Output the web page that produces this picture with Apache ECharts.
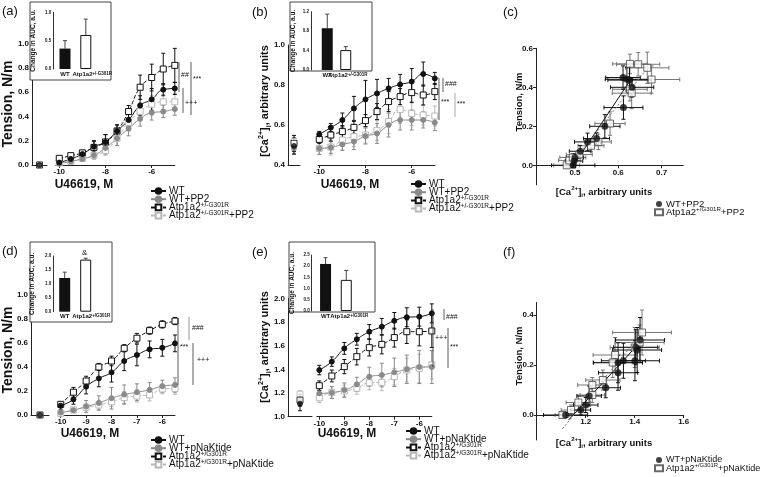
<!DOCTYPE html>
<html>
<head>
<meta charset="utf-8">
<script src="https://cdn.jsdelivr.net/npm/echarts@6/dist/echarts.min.js"></script>
<style>
  html, body { margin: 0; padding: 0; background: #fff; }
  #chart { width: 762px; height: 477px; }
</style>
</head>
<body>
<div id="chart"></div>
<script>
// log concentrations of U46619
const dosesAB = [-10, -9.5, -9, -8.5, -8, -7.5, -7, -6.5, -6, -5.5, -5];
const dosesDE = [-10, -9.5, -9, -8.5, -8, -7.5, -7, -6.5, -6, -5.5];

// (a) tension, PP2
const aWT = [0.02, 0.05, 0.09, 0.15, 0.19, 0.28, 0.37, 0.49, 0.54, 0.62, 0.63];
const aWTErr = [0.01, 0.02, 0.03, 0.05, 0.06, 0.05, 0.05, 0.08, 0.09, 0.05, 0.05];
const aWTPP2 = [0.01, 0.03, 0.05, 0.08, 0.14, 0.22, 0.30, 0.38, 0.43, 0.44, 0.46];
const aWTPP2Err = [0.01, 0.02, 0.02, 0.03, 0.05, 0.06, 0.06, 0.06, 0.06, 0.05, 0.05];
const aAtp = [0.055, 0.077, 0.10, 0.145, 0.19, 0.28, 0.44, 0.64, 0.72, 0.79, 0.82];
const aAtpErr = [0.01, 0.01, 0.02, 0.05, 0.06, 0.05, 0.05, 0.10, 0.11, 0.13, 0.14];
const aAtpPP2 = [0.02, 0.03, 0.055, 0.08, 0.12, 0.22, 0.35, 0.44, 0.50, 0.52, 0.52];
const aAtpPP2Err = [0.01, 0.01, 0.02, 0.03, 0.04, 0.06, 0.07, 0.07, 0.07, 0.06, 0.07];
const aBase = [0, 0, 0, 0];
const aBaseErr = [0.005, 0.005, 0.005, 0.005];

// (b) calcium, PP2
const bWT = [0.553, 0.587, 0.625, 0.683, 0.728, 0.758, 0.783, 0.803, 0.817, 0.855, 0.833];
const bWTErr = [0.015, 0.02, 0.035, 0.06, 0.095, 0.07, 0.05, 0.05, 0.065, 0.06, 0.03];
const bWTPP2 = [0.483, 0.488, 0.503, 0.517, 0.545, 0.558, 0.60, 0.625, 0.625, 0.625, 0.612];
const bWTPP2Err = [0.03, 0.03, 0.03, 0.04, 0.04, 0.05, 0.06, 0.05, 0.05, 0.04, 0.04];
const bAtp = [0.528, 0.55, 0.567, 0.588, 0.622, 0.667, 0.717, 0.742, 0.762, 0.75, 0.767];
const bAtpErr = [0.02, 0.03, 0.03, 0.03, 0.03, 0.04, 0.05, 0.04, 0.05, 0.05, 0.04];
const bAtpPP2 = [0.483, 0.49, 0.525, 0.542, 0.55, 0.572, 0.617, 0.678, 0.658, 0.65, 0.645];
const bAtpPP2Err = [0.03, 0.04, 0.05, 0.05, 0.04, 0.05, 0.06, 0.07, 0.06, 0.05, 0.05];
const bBase = [0.517, 0.483, 0.508, 0.495];
const bBaseErr = [0.03, 0.03, 0.04, 0.04];

// (d) tension, pNaKtide
const dWT = [0.078, 0.13, 0.236, 0.305, 0.355, 0.45, 0.50, 0.547, 0.56, 0.597];
const dWTErr = [0.03, 0.04, 0.06, 0.07, 0.08, 0.08, 0.09, 0.07, 0.07, 0.07];
const dWTpN = [0.02, 0.04, 0.07, 0.10, 0.14, 0.17, 0.19, 0.21, 0.24, 0.25];
const dWTpNErr = [0.01, 0.02, 0.05, 0.06, 0.09, 0.08, 0.07, 0.06, 0.05, 0.06];
const dAtp = [0.089, 0.19, 0.283, 0.40, 0.45, 0.556, 0.64, 0.703, 0.755, 0.783];
const dAtpErr = [0.02, 0.04, 0.04, 0.03, 0.04, 0.03, 0.04, 0.03, 0.03, 0.03];
const dAtppN = [0.014, 0.042, 0.064, 0.083, 0.11, 0.145, 0.158, 0.167, 0.217, 0.222];
const dAtppNErr = [0.01, 0.02, 0.03, 0.04, 0.04, 0.05, 0.05, 0.05, 0.04, 0.05];
const dBase = [0, 0, 0, 0];
const dBaseErr = [0.01, 0.01, 0.01, 0.01];

// (e) calcium, pNaKtide
const eWT = [1.394, 1.465, 1.577, 1.654, 1.718, 1.76, 1.81, 1.84, 1.845, 1.873];
const eWTErr = [0.04, 0.04, 0.05, 0.05, 0.06, 0.07, 0.07, 0.08, 0.08, 0.08];
const eWTpN = [1.197, 1.203, 1.225, 1.273, 1.338, 1.352, 1.375, 1.40, 1.42, 1.42];
const eWTpNErr = [0.04, 0.05, 0.06, 0.06, 0.08, 0.10, 0.12, 0.12, 0.14, 0.14];
const eAtp = [1.262, 1.344, 1.423, 1.507, 1.583, 1.611, 1.668, 1.718, 1.718, 1.724];
const eAtpErr = [0.04, 0.05, 0.06, 0.07, 0.07, 0.08, 0.08, 0.10, 0.12, 0.14];
const eAtppN = [1.16, 1.206, 1.217, 1.24, 1.287, 1.29, 1.338, 1.394, 1.408, 1.437];
const eAtppNErr = [0.04, 0.05, 0.05, 0.05, 0.06, 0.07, 0.07, 0.10, 0.12, 0.12];
const eBase = [1.19, 1.13, 1.14, 1.11];
const eBaseErr = [0.03, 0.04, 0.05, 0.06];

// (c) tension vs calcium, PP2
const cWTx = [0.496, 0.498, 0.500, 0.512, 0.529, 0.550, 0.569, 0.612, 0.632, 0.611, 0.620, 0.626];
const cWTy = [0.0, 0.022, 0.040, 0.072, 0.120, 0.137, 0.200, 0.296, 0.400, 0.450, 0.441, 0.437];
const cWTxErr = [0.05, 0.02, 0.02, 0.025, 0.03, 0.03, 0.035, 0.045, 0.05, 0.04, 0.05, 0.05];
const cWTyErr = [0.01, 0.02, 0.02, 0.03, 0.045, 0.03, 0.06, 0.06, 0.05, 0.06, 0.06, 0.07];
const cAtpx = [0.481, 0.487, 0.495, 0.510, 0.537, 0.554, 0.581, 0.627, 0.631, 0.627, 0.646, 0.667, 0.677];
const cAtpy = [0.0, 0.025, 0.04, 0.055, 0.10, 0.12, 0.214, 0.39, 0.37, 0.52, 0.518, 0.50, 0.44];
const cAtpxErr = [0.03, 0.025, 0.03, 0.03, 0.03, 0.03, 0.035, 0.04, 0.045, 0.04, 0.05, 0.05, 0.065];
const cAtpyErr = [0.01, 0.02, 0.02, 0.02, 0.03, 0.04, 0.06, 0.06, 0.08, 0.05, 0.06, 0.08, 0.07];
const cFitWT = [[0.492, -0.015], [0.632, 0.45]];
const cFitAtp = [[0.484, -0.015], [0.668, 0.50]];

// (f) tension vs calcium, pNaKtide
const fWTx = [1.118, 1.18, 1.20, 1.214, 1.282, 1.332, 1.332, 1.354, 1.401, 1.404, 1.41, 1.422];
const fWTy = [0.0, 0.02, 0.04, 0.076, 0.109, 0.169, 0.209, 0.217, 0.217, 0.271, 0.26, 0.30];
const fWTxErr = [0.09, 0.04, 0.05, 0.05, 0.06, 0.08, 0.10, 0.09, 0.10, 0.09, 0.10, 0.10];
const fWTyErr = [0.01, 0.02, 0.03, 0.04, 0.04, 0.07, 0.08, 0.07, 0.08, 0.07, 0.09, 0.09];
const fAtpx = [1.105, 1.14, 1.17, 1.227, 1.227, 1.27, 1.31, 1.32, 1.40, 1.42, 1.43];
const fAtpy = [0.0, 0.02, 0.05, 0.08, 0.12, 0.14, 0.21, 0.24, 0.27, 0.29, 0.33];
const fAtpxErr = [0.03, 0.04, 0.05, 0.05, 0.06, 0.07, 0.08, 0.09, 0.10, 0.10, 0.12];
const fAtpyErr = [0.01, 0.02, 0.03, 0.03, 0.03, 0.04, 0.06, 0.07, 0.08, 0.07, 0.09];
const fFitWT = [[1.13, -0.02], [1.43, 0.30]];
const fFitAtp = [[1.105, -0.055], [1.44, 0.34]];

// insets: change in AUC (WT, Atp1a2)
const insetCats = ['WT', 'Atp'];
const insA = [0.36, 0.60], insAErr = [0.14, 0.28];
const insB = [0.86, 0.41], insBErr = [0.29, 0.07];
const insD = [1.21, 1.87], insDErr = [0.21, 0.05];
const insE = [2.10, 1.39], insEErr = [0.28, 0.42];

const FONT = 'Liberation Sans';
const BLACK = '#111', GRAY = '#8a8a8a', LIGHT = '#b8b8b8';

const chart = echarts.init(document.getElementById('chart'));
const option = {
  animation: false,
  backgroundColor: '#fff',
  textStyle: { fontFamily: FONT },
  grid: [], xAxis: [], yAxis: [], series: [], legend: [], graphic: []
};

function addGrid(rect, xa, ya) {
  const i = option.grid.length;
  option.grid.push(Object.assign({ outerBoundsMode: 'none', containLabel: false }, rect));
  option.xAxis.push(Object.assign({ gridIndex: i }, xa));
  option.yAxis.push(Object.assign({ gridIndex: i }, ya));
  return i;
}

const lineAx = { lineStyle: { color: '#222', width: 1 } };
const tickAx = { length: 3, lineStyle: { color: '#222' } };
const lab8 = { color: '#111', fontSize: 8, fontWeight: 'bold', fontFamily: FONT, margin: 3 };

// error bars: value = [x, y, xerr, yerr]
function errBars(gi, pts, color, z, upOnly) {
  return {
    type: 'custom', xAxisIndex: gi, yAxisIndex: gi, silent: true, z: z || 2,
    data: pts,
    renderItem(params, api) {
      const x = api.value(0), y = api.value(1), xe = api.value(2), ye = api.value(3);
      const ch = [];
      const st = { stroke: color, lineWidth: 1 };
      if (ye > 0) {
        const a = api.coord([x, upOnly ? y : y - ye]), b = api.coord([x, y + ye]);
        ch.push({ type: 'line', shape: { x1: a[0], y1: a[1], x2: b[0], y2: b[1] }, style: st });
        ch.push({ type: 'line', shape: { x1: b[0] - 2, y1: b[1], x2: b[0] + 2, y2: b[1] }, style: st });
        if (!upOnly) ch.push({ type: 'line', shape: { x1: a[0] - 2, y1: a[1], x2: a[0] + 2, y2: a[1] }, style: st });
      }
      if (xe > 0) {
        const a = api.coord([x - xe, y]), b = api.coord([x + xe, y]);
        ch.push({ type: 'line', shape: { x1: a[0], y1: a[1], x2: b[0], y2: b[1] }, style: st });
        ch.push({ type: 'line', shape: { x1: a[0], y1: a[1] - 2, x2: a[0], y2: a[1] + 2 }, style: st });
        ch.push({ type: 'line', shape: { x1: b[0], y1: b[1] - 2, x2: b[0], y2: b[1] + 2 }, style: st });
      }
      return { type: 'group', children: ch };
    }
  };
}

const STYLES = {
  wt:   { color: BLACK, fill: BLACK, symbol: 'circle', size: 5, dash: 'solid' },
  wtd:  { color: GRAY, fill: GRAY, symbol: 'circle', size: 5, dash: 'solid' },
  atp:  { color: BLACK, fill: '#fff', symbol: 'rect', size: 6, dash: 'dashed' },
  atpd: { color: LIGHT, fill: '#fff', symbol: 'rect', size: 6, dash: 'dashed' }
};

function curvePanel(p) {
  const ya = {
    type: 'value', min: p.ymin, max: p.ymax, interval: p.yint,
    axisLine: Object.assign({ show: true, onZero: false }, lineAx), axisTick: tickAx,
    splitLine: { show: false }, axisLabel: Object.assign({ formatter: v => v.toFixed(1) }, lab8)
  };
  const gb = addGrid({ left: p.axisX, top: p.top, width: p.baseW, height: p.h },
    { type: 'category', data: ['0'], boundaryGap: true, axisLine: lineAx,
      axisTick: { show: false }, axisLabel: { show: false } }, ya);
  const gm = addGrid({ left: p.mainL, top: p.top, width: p.mainW, height: p.h },
    { type: 'value', min: p.xmin, max: p.xmax, splitLine: { show: false },
      axisLine: Object.assign({ onZero: false }, lineAx),
      axisTick: Object.assign({ customValues: p.xticks }, tickAx),
      axisLabel: Object.assign({ customValues: p.xticks, formatter: v => String(v) }, lab8) },
    { type: 'value', min: p.ymin, max: p.ymax, show: false });
  // drug-treated (grey) groups first, black groups on top
  p.curves.forEach((c, k) => {
    const s = STYLES[c.style];
    option.series.push(errBars(gm, p.doses.map((d, i) => [d, c.vals[i], 0, c.errs[i]]), s.color, 2));
    option.series.push({
      type: 'line', name: c.name, xAxisIndex: gm, yAxisIndex: gm, z: 3,
      data: p.doses.map((d, i) => [d, c.vals[i]]), smooth: 0.5,
      symbol: s.symbol, symbolSize: s.size, showSymbol: true,
      itemStyle: { color: s.fill, borderColor: s.color, borderWidth: 1 },
      lineStyle: { color: s.color, width: 1, type: s.dash }
    });
    option.series.push(errBars(gb, [[0, p.base[k], 0, p.baseErr[k]]], s.color, 2));
    option.series.push({
      type: 'scatter', xAxisIndex: gb, yAxisIndex: gb, z: 3, silent: true,
      data: [[0, p.base[k]]], symbol: s.symbol, symbolSize: s.size,
      itemStyle: { color: s.fill, borderColor: s.color, borderWidth: 1 }
    });
  });
}

function scatterPanel(p) {
  // x axis drawn at tension = 0, the y axis runs on below it
  const zeroOffset = -p.h * (0 - p.ymin) / (p.ymax - p.ymin);
  const gi = addGrid({ left: p.left, top: p.top, width: p.w, height: p.h },
    { type: 'value', min: p.xmin, max: p.xmax, splitLine: { show: false }, offset: zeroOffset,
      axisLine: Object.assign({ onZero: false }, lineAx),
      axisTick: Object.assign({ customValues: p.xticks }, tickAx),
      axisLabel: Object.assign({ customValues: p.xticks, formatter: v => v.toFixed(1) }, lab8) },
    { type: 'value', min: p.ymin, max: p.ymax, splitLine: { show: false },
      axisLine: Object.assign({ onZero: false }, lineAx),
      axisTick: Object.assign({ customValues: p.yticks }, tickAx),
      axisLabel: Object.assign({ customValues: p.yticks, formatter: v => v.toFixed(1) }, lab8) });
  option.series.push({ type: 'line', xAxisIndex: gi, yAxisIndex: gi, data: p.fitAtp, symbol: 'none', silent: true,
    lineStyle: { color: '#777', width: 1, type: [2, 2] }, z: 2 });
  option.series.push({ type: 'line', xAxisIndex: gi, yAxisIndex: gi, data: p.fitWT, symbol: 'none', silent: true,
    lineStyle: { color: BLACK, width: 1 }, z: 2 });
  option.series.push(errBars(gi, p.atpX.map((x, i) => [x, p.atpY[i], p.atpXe[i], p.atpYe[i]]), '#777', 2));
  option.series.push(errBars(gi, p.wtX.map((x, i) => [x, p.wtY[i], p.wtXe[i], p.wtYe[i]]), BLACK, 2));
  option.series.push({ type: 'scatter', name: p.names[1], xAxisIndex: gi, yAxisIndex: gi, z: 3,
    data: p.atpX.map((x, i) => [x, p.atpY[i]]), symbol: 'rect', symbolSize: 7,
    itemStyle: { color: '#fff', borderColor: '#444', borderWidth: 1 } });
  option.series.push({ type: 'scatter', name: p.names[0], xAxisIndex: gi, yAxisIndex: gi, z: 4,
    data: p.wtX.map((x, i) => [x, p.wtY[i]]), symbol: 'circle', symbolSize: 7,
    itemStyle: { color: BLACK } });
}

function inset(p) {
  option.graphic.push({ type: 'rect', z: 5, shape: { x: p.box[0], y: p.box[1], width: p.box[2], height: p.box[3] },
    style: { fill: '#fff', stroke: '#444', lineWidth: 1 } });
  const gi = addGrid({ left: p.left, top: p.top, width: p.w, height: p.h },
    { type: 'category', data: insetCats, z: 6, axisLine: { show: false }, axisTick: { show: false },
      axisLabel: { color: '#111', fontSize: 6, fontWeight: 'bold', margin: 2, fontFamily: FONT, interval: 0, hideOverlap: false,
        formatter: v => v === 'WT' ? 'WT' : '{sp|}Atp1a2{sup|' + p.geno + '}',
        rich: { sup: { fontSize: 4.5, fontWeight: 'bold', verticalAlign: 'top' }, sp: { width: p.shift } } } },
    { type: 'value', min: 0, max: p.ymax, interval: p.yint, z: 6, offset: p.offset,
      splitLine: { show: false }, axisLine: { show: true, lineStyle: { color: '#333', width: 1 } },
      axisTick: { length: 2, lineStyle: { color: '#333' } },
      axisLabel: { color: '#111', fontSize: 4.5, fontWeight: 'bold', margin: 2, formatter: v => v.toFixed(1) },
      name: 'Change in AUC, a.u.', nameLocation: 'middle', nameGap: p.nameGap, nameRotate: 90,
      nameTextStyle: { color: '#111', fontSize: 6.5, fontWeight: 'bold', fontFamily: FONT } });
  option.series.push({ type: 'bar', xAxisIndex: gi, yAxisIndex: gi, z: 6, barWidth: 11, silent: true,
    data: p.vals.map((v, i) => ({ value: v, itemStyle: i === 0 ? { color: BLACK } : { color: '#fff', borderColor: BLACK, borderWidth: 1 } })) });
  option.series.push(errBars(gi, p.vals.map((v, i) => [i, v, 0, p.errs[i]]), '#444', 6, true));
}

function legendFor(p) {
  const fs = p.fontSize || 10;
  option.legend.push({
    orient: 'vertical', left: p.left, top: p.top, padding: 0, itemGap: p.gap !== undefined ? p.gap : -3.8,
    itemWidth: p.iw || 15, itemHeight: p.ih || 7, selectedMode: false, data: p.items.map(it => it[0]),
    formatter: n => (p.items.find(it => it[0] === n) || [n, n])[1],
    textStyle: { fontSize: fs, color: '#111', fontFamily: FONT, lineHeight: 12, padding: [0, 0, 0, -2],
      rich: { sup: { fontSize: fs * 0.65, fontFamily: FONT, color: '#111', verticalAlign: 'top' } } }
  });
}

// ----- panels -----
curvePanel({ axisX: 32, baseW: 15, top: 43.5, h: 121.5, ymin: 0, ymax: 1, yint: 0.2,
  mainL: 55.8, mainW: 119, xmin: -10.15, xmax: -5, xticks: [-10, -8, -6], doses: dosesAB,
  base: aBase, baseErr: aBaseErr,
  curves: [
    { name: 'a:atpd', style: 'atpd', vals: aAtpPP2, errs: aAtpPP2Err },
    { name: 'a:wtd', style: 'wtd', vals: aWTPP2, errs: aWTPP2Err },
    { name: 'a:atp', style: 'atp', vals: aAtp, errs: aAtpErr },
    { name: 'a:wt', style: 'wt', vals: aWT, errs: aWTErr }
  ] });
curvePanel({ axisX: 288, baseW: 12, top: 45, h: 120, ymin: 0.4, ymax: 1.0, yint: 0.2,
  mainL: 318.1, mainW: 116.7, xmin: -10.05, xmax: -5, xticks: [-10, -8, -6], doses: dosesAB,
  base: bBase, baseErr: bBaseErr,
  curves: [
    { name: 'b:atpd', style: 'atpd', vals: bAtpPP2, errs: bAtpPP2Err },
    { name: 'b:wtd', style: 'wtd', vals: bWTPP2, errs: bWTPP2Err },
    { name: 'b:atp', style: 'atp', vals: bAtp, errs: bAtpErr },
    { name: 'b:wt', style: 'wt', vals: bWT, errs: bWTErr }
  ] });
curvePanel({ axisX: 31, baseW: 18, top: 295, h: 120, ymin: 0, ymax: 1, yint: 0.2,
  mainL: 58.2, mainW: 116.8, xmin: -10.1, xmax: -5.5, xticks: [-10, -9, -8, -7, -6], doses: dosesDE,
  base: dBase, baseErr: dBaseErr,
  curves: [
    { name: 'd:atpd', style: 'atpd', vals: dAtppN, errs: dAtppNErr },
    { name: 'd:wtd', style: 'wtd', vals: dWTpN, errs: dWTpNErr },
    { name: 'd:atp', style: 'atp', vals: dAtp, errs: dAtpErr },
    { name: 'd:wt', style: 'wt', vals: dWT, errs: dWTErr }
  ] });
curvePanel({ axisX: 288, baseW: 24, top: 298.3, h: 118.4, ymin: 1.0, ymax: 2.0, yint: 0.2,
  mainL: 316.8, mainW: 115, xmin: -10.1, xmax: -5.5, xticks: [-10, -9, -8, -7, -6], doses: dosesDE,
  base: eBase, baseErr: eBaseErr,
  curves: [
    { name: 'e:atpd', style: 'atpd', vals: eAtppN, errs: eAtppNErr },
    { name: 'e:wtd', style: 'wtd', vals: eWTpN, errs: eWTpNErr },
    { name: 'e:atp', style: 'atp', vals: eAtp, errs: eAtpErr },
    { name: 'e:wt', style: 'wt', vals: eWT, errs: eWTErr }
  ] });

scatterPanel({ left: 536, top: 48.3, w: 147.2, h: 136.5, xmin: 0.41, xmax: 0.75, ymin: -0.1, ymax: 0.6,
  xticks: [0.5, 0.6, 0.7], yticks: [0, 0.2, 0.4, 0.6], names: ['c:wt', 'c:atp'],
  wtX: cWTx, wtY: cWTy, wtXe: cWTxErr, wtYe: cWTyErr,
  atpX: cAtpx, atpY: cAtpy, atpXe: cAtpxErr, atpYe: cAtpyErr, fitWT: cFitWT, fitAtp: cFitAtp });
scatterPanel({ left: 536.7, top: 302.5, w: 147, h: 137.5, xmin: 1.0, xmax: 1.6, ymin: -0.1, ymax: 0.45,
  xticks: [1.2, 1.4, 1.6], yticks: [0, 0.2, 0.4], names: ['f:wt', 'f:atp'],
  wtX: fWTx, wtY: fWTy, wtXe: fWTxErr, wtYe: fWTyErr,
  atpX: fAtpx, atpY: fAtpy, atpXe: fAtpxErr, atpYe: fAtpyErr, fitWT: fFitWT, fitAtp: fFitAtp });

inset({ box: [30, 2, 81, 78], left: 54.6, top: 12.3, w: 41.6, h: 56.7, ymax: 1.0, yint: 0.5, offset: 1.3, nameGap: 17, shift: 13, geno: '+/-G301R', vals: insA, errs: insAErr });
inset({ box: [290, 2, 82, 69], left: 318, top: 11.7, w: 37, h: 58.3, ymax: 1.2, yint: 0.4, offset: 7, nameGap: 14, shift: 4, geno: '+/-G301R', vals: insB, errs: insBErr });
inset({ box: [30, 242, 82, 80], left: 54.2, top: 256, w: 42, h: 55.7, ymax: 2.0, yint: 0.5, offset: 1, nameGap: 17, shift: 11, geno: '+/G301R', vals: insD, errs: insDErr });
inset({ box: [289, 242, 86, 70], left: 315.2, top: 255, w: 41.4, h: 56, ymax: 2.5, yint: 0.5, offset: 3.5, nameGap: 16, shift: 6, geno: '+/G301R', vals: insE, errs: insEErr });

legendFor({ left: 150, top: 185, items: [['a:wt', 'WT'], ['a:wtd', 'WT+PP2'], ['a:atp', 'Atp1a2{sup|+/-G301R}'], ['a:atpd', 'Atp1a2{sup|+/-G301R}+PP2']] });
legendFor({ left: 410, top: 178, items: [['b:wt', 'WT'], ['b:wtd', 'WT+PP2'], ['b:atp', 'Atp1a2{sup|+/-G301R}'], ['b:atpd', 'Atp1a2{sup|+/-G301R}+PP2']] });
legendFor({ left: 654, top: 198, iw: 8, ih: 6, fontSize: 9.5, items: [['c:wt', 'WT+PP2'], ['c:atp', 'Atp1a2{sup|+/G301R}+PP2']] });
legendFor({ left: 150, top: 434, items: [['d:wt', 'WT'], ['d:wtd', 'WT+pNaKtide'], ['d:atp', 'Atp1a2{sup|+/G301R}'], ['d:atpd', 'Atp1a2{sup|+/G301R}+pNaKtide']] });
legendFor({ left: 405, top: 425, items: [['e:wt', 'WT'], ['e:wtd', 'WT+pNaKtide'], ['e:atp', 'Atp1a2{sup|+/G301R}'], ['e:atpd', 'Atp1a2{sup|+/G301R}+pNaKtide']] });
legendFor({ left: 654, top: 454, iw: 8, ih: 6, fontSize: 9, items: [['f:wt', 'WT+pNaKtide'], ['f:atp', 'Atp1a2{sup|+/G301R}+pNaKtide']] });

// ----- titles, panel letters, significance marks -----
const g = option.graphic;
function txt(x, y, text, o) {
  g.push({ type: 'text', x, y, z: 8, style: Object.assign({ text, fill: '#111', font: '13px ' + FONT, textAlign: 'left', textVerticalAlign: 'middle' }, o || {}) });
}
function richStyle(size) {
  return { sup: { font: 'bold ' + (size * 0.65) + 'px ' + FONT, verticalAlign: 'top' },
           sub: { font: 'bold ' + (size * 0.65) + 'px ' + FONT, verticalAlign: 'bottom' } };
}
function title(x, y, text, size, rotated) {
  g.push({ type: 'text', x, y, z: 8, rotation: rotated ? Math.PI / 2 : 0,
    style: { text, fill: '#111', font: 'bold ' + size + 'px ' + FONT, textAlign: 'center', textVerticalAlign: 'middle',
      lineHeight: size * 1.4, rich: richStyle(size) } });
}
function vline(x, y1, y2, color, w) {
  g.push({ type: 'line', z: 8, shape: { x1: x, y1, x2: x, y2 }, style: { stroke: color || '#333', lineWidth: w || 0.8 } });
}
const CA = '[Ca{sup|2+}]{sub|i}, arbitrary units';

txt(2, 11, '(a)'); txt(252, 12, '(b)'); txt(503, 12, '(c)');
txt(2, 251, '(d)'); txt(252, 252, '(e)'); txt(503, 252, '(f)');

title(8, 104, 'Tension, N/m', 14, true);
title(84, 185, 'U46619, M', 12);
title(265, 101, CA, 11, true);
title(350, 185, 'U46619, M', 12);
title(519, 102, 'Tension, N/m', 9.5, true);
title(604, 192, CA, 9.5);

title(8, 350, 'Tension, N/m', 14, true);
title(90, 434, 'U46619, M', 12);
title(265, 347, CA, 11, true);
title(347, 434, 'U46619, M', 12);
title(519, 356, 'Tension, N/m', 9.5, true);
title(604, 443, CA, 9.5);

const sig = { font: '7px ' + FONT };
// (a)
vline(179, 62, 92); txt(181, 75, '##', sig);
vline(191, 62, 115); txt(193, 79, '***', sig);
vline(183, 88, 113); txt(185, 103, '+++', sig);
// (b)
vline(439, 78, 120); vline(443, 78, 92); txt(445, 84, '###', sig);
txt(441, 102, '***', sig);
vline(455, 93, 117, LIGHT, 1.2); txt(457, 104, '***', sig);
// (d)
vline(178, 318, 385); txt(180, 347, '***', sig);
vline(189, 317, 340, LIGHT, 1.5); txt(192, 328, '###', sig);
vline(193, 343, 385); txt(197, 360, '+++', sig);
// (e)
vline(433, 309, 367); vline(444, 309, 320); txt(446, 317, '###', sig);
txt(435, 338, '+++', sig);
vline(448, 328, 368); txt(450, 347, '***', sig);
// (d) inset mark
txt(82, 253, '&', { font: '8px ' + FONT });

chart.setOption(option);
</script>
</body>
</html>
